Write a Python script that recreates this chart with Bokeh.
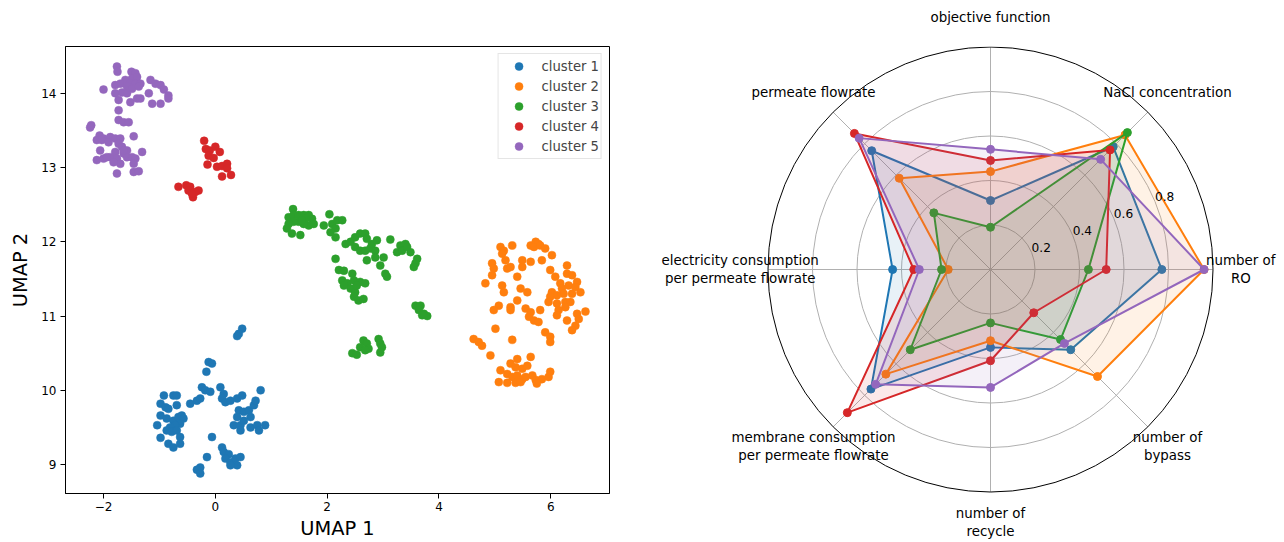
import numpy as np
from bokeh.plotting import figure
from bokeh.layouts import row
from bokeh.models import Range1d, FixedTicker, Legend, LegendItem, LinearAxis
from bokeh.embed import file_html
from bokeh.resources import INLINE
from bokeh.core.properties import value

# ---------------- data ----------------
cluster_names = ["cluster 1", "cluster 2", "cluster 3", "cluster 4", "cluster 5"]
colors = ["#1f77b4", "#ff7f0e", "#2ca02c", "#d62728", "#9467bd"]

c1_x = [0.48, 0.42, 0.39, -0.12, -0.06, -0.16, -0.24, -0.18, -0.09, 0.09, 0.15, 0.12, 0.18, 0.27, 0.39, 0.48,
        0.81, -0.45, -0.33, -0.27, -0.92, -0.75, -0.69, -0.98, -0.89, -0.84, -0.69, -0.98, -0.87, -0.75, -0.66,
        -0.60, -0.57, -0.63, -0.72, -0.81, -1.04, -0.87, -0.78, -0.69, -0.63, -0.98, -0.84, -0.75, -0.63, 0.42,
        0.51, 0.60, 0.69, 0.72, 0.63, 0.39, 0.33, 0.45, 0.51, 0.63, 0.75, 0.78, 0.89, 0.45, -0.06, 0.12, 0.15,
        0.24, 0.18, 0.27, 0.36, 0.45, 0.39, 0.27, -0.15, -0.27, -0.33, -0.27]
c1_y = [10.83, 10.76, 10.73, 10.38, 10.36, 10.25, 10.04, 10.00, 9.98, 10.04, 9.95, 9.89, 9.84, 9.86, 9.89, 9.93,
        10.00, 9.82, 9.86, 9.89, 9.93, 9.93, 9.93, 9.82, 9.77, 9.75, 9.80, 9.66, 9.62, 9.59, 9.64,
        9.66, 9.62, 9.55, 9.53, 9.50, 9.53, 9.46, 9.44, 9.46, 9.37, 9.36, 9.28, 9.23, 9.28, 9.73,
        9.71, 9.73, 9.80, 9.86, 9.64, 9.64, 9.53, 9.53, 9.59, 9.50, 9.53, 9.46, 9.53, 9.46, 9.37, 9.23, 9.17,
        9.14, 9.08, 9.03, 9.08, 9.10, 8.99, 8.99, 9.10, 8.96, 8.93, 8.88]

c2_x = [5.10, 5.16, 5.13, 5.31, 5.64, 5.73, 5.78, 5.70, 5.81, 5.90, 6.02, 5.19, 5.49, 5.64, 5.84, 4.95, 4.98,
        4.95, 5.22, 5.28, 5.49, 4.83, 5.13, 5.16, 5.40, 5.46, 5.58, 5.99, 6.08, 6.29, 6.29, 6.38, 6.47, 6.17,
        6.20, 6.32, 6.44, 6.53, 6.38, 6.23, 6.02, 5.99, 5.96, 6.11, 6.11, 6.26, 6.35, 6.26, 6.14, 5.40, 5.07,
        4.98, 5.28, 5.28, 5.55, 5.64, 5.81, 5.61, 5.70, 5.78, 6.11, 6.29, 6.47, 6.62, 6.50, 6.44, 6.38, 5.01,
        4.62, 4.71, 4.77, 5.31, 5.90, 5.99, 5.99, 4.92, 5.40, 5.64, 5.28, 5.37, 5.49, 5.58, 5.10, 5.22, 5.31,
        5.40, 5.49, 5.67, 5.73, 5.84, 5.96, 5.99, 5.07, 5.22, 5.37, 5.46, 5.75, 5.55]
c2_y = [11.93, 11.88, 11.84, 11.95, 11.95, 12.00, 11.97, 11.93, 11.95, 11.91, 11.82, 11.75, 11.75, 11.73, 11.75,
        11.71, 11.64, 11.55, 11.64, 11.66, 11.66, 11.44, 11.41, 11.32, 11.53, 11.37, 11.32, 11.62, 11.53, 11.68,
        11.57, 11.55, 11.46, 11.44, 11.37, 11.41, 11.39, 11.32, 11.30, 11.30, 11.32, 11.26, 11.19, 11.28, 11.17,
        11.19, 11.19, 11.12, 11.08, 11.21, 11.14, 11.08, 11.12, 11.08, 11.10, 11.05, 11.08, 10.99, 10.94, 10.92,
        11.01, 10.94, 11.03, 11.06, 10.96, 10.87, 10.81, 10.83, 10.69, 10.65, 10.60, 10.68, 10.78, 10.72, 10.65,
        10.47, 10.42, 10.45, 10.36, 10.31, 10.29, 10.33, 10.27, 10.22, 10.18, 10.20, 10.15, 10.20, 10.14, 10.15,
        10.18, 10.25, 10.11, 10.10, 10.10, 10.11, 10.09, 10.18]

c3_x = [1.39, 1.31, 1.40, 1.49, 1.58, 1.67, 1.73, 1.76, 1.67, 1.58, 1.49, 1.40, 1.31, 1.28, 1.37, 1.52, 1.61,
        1.55, 2.04, 1.94, 2.09, 2.18, 2.27, 2.15, 2.06, 2.15, 2.33, 2.42, 2.50, 2.59, 2.68, 2.71, 2.50, 2.59,
        2.68, 2.77, 2.86, 2.80, 2.89, 3.13, 2.71, 2.86, 3.01, 2.95, 3.04, 3.07, 3.25, 3.31, 3.40, 3.34, 3.49,
        3.43, 3.61, 3.58, 3.55, 2.15, 2.21, 2.30, 2.45, 2.27, 2.36, 2.48, 2.59, 2.68, 2.42, 2.50, 2.48, 2.56,
        2.65, 2.30, 2.53, 3.58, 3.67, 3.64, 3.73, 3.79, 3.70, 2.65, 2.71, 2.59, 2.74, 2.68, 2.45, 2.53, 2.92,
        2.95, 2.98, 2.95]
c3_y = [12.44, 12.33, 12.36, 12.36, 12.36, 12.36, 12.31, 12.24, 12.22, 12.24, 12.27, 12.27, 12.24, 12.18, 12.11,
        12.09, 12.31, 12.29, 12.37, 12.22, 12.24, 12.29, 12.29, 12.18, 12.13, 12.06, 11.97, 12.00, 12.06, 12.11,
        12.11, 12.04, 11.93, 11.88, 11.88, 11.91, 11.88, 11.97, 12.02, 12.03, 11.75, 11.79, 11.79, 11.68, 11.57,
        11.53, 11.86, 11.95, 11.97, 11.88, 11.86, 11.93, 11.77, 11.71, 11.66, 11.77, 11.62, 11.61, 11.57, 11.48,
        11.44, 11.48, 11.46, 11.44, 11.37, 11.32, 11.26, 11.21, 11.23, 11.41, 11.41, 11.14, 11.14, 11.08, 11.03,
        11.00, 11.01, 10.67, 10.63, 10.58, 10.56, 10.54, 10.50, 10.48, 10.69, 10.63, 10.58, 10.51]

c4_x = [-0.20, -0.17, -0.10, 0.00, 0.08, -0.12, -0.03, -0.14, 0.03, 0.12, 0.21, 0.21, 0.12, 0.28, -0.66, -0.52,
        -0.45, -0.48, -0.40, -0.30, -0.36, -0.42]
c4_y = [13.36, 13.25, 13.23, 13.28, 13.21, 13.16, 13.13, 13.04, 13.01, 13.02, 13.05, 12.99, 12.88, 12.90, 12.74,
        12.76, 12.74, 12.69, 12.60, 12.69, 12.67, 12.65]

c5_x = [-1.76, -1.75, -1.50, -1.43, -1.49, -1.40, -1.61, -1.52, -1.43, -1.34, -1.79, -1.70, -1.58, -1.49, -1.37,
        -1.16, -1.07, -0.98, -0.92, -2.00, -1.79, -1.67, -1.58, -1.73, -1.52, -1.40, -1.34, -1.19, -1.13, -0.98,
        -0.84, -0.84, -1.73, -1.73, -1.64, -1.55, -2.22, -2.24, -2.07, -2.00, -1.88, -1.79, -1.70, -1.46, -2.12,
        -2.03, -1.91, -1.73, -1.67, -1.58, -2.06, -1.79, -1.64, -1.31, -2.12, -2.00, -1.88, -1.76, -1.70, -1.58,
        -1.49, -1.43, -1.46, -1.76, -1.46, -1.37, -1.64, -1.94, -1.82]
c5_y = [14.36, 14.29, 14.29, 14.27, 14.20, 14.22, 14.18, 14.14, 14.13, 14.13, 14.11, 14.13, 14.09, 14.06, 14.09,
        14.18, 14.13, 14.11, 14.05, 14.05, 14.00, 14.01, 14.00, 13.91, 13.88, 13.93, 13.93, 14.00, 13.86, 13.86,
        13.97, 13.93, 13.77, 13.64, 13.61, 13.61, 13.57, 13.54, 13.43, 13.39, 13.41, 13.39, 13.39, 13.42, 13.37,
        13.37, 13.34, 13.32, 13.28, 13.23, 13.23, 13.21, 13.19, 13.21, 13.10, 13.12, 13.14, 13.12, 13.05, 13.14,
        13.14, 13.12, 13.05, 12.92, 12.94, 12.95, 13.23, 13.14, 13.07]

x_ticks = [-2, 0, 2, 4, 6]
y_ticks = [9, 10, 11, 12, 13, 14]

# radar: categories counter-clockwise starting at 3 o'clock
radar_categories = ["number of\nRO", "NaCl concentration", "objective function", "permeate flowrate",
                    "electricity consumption\nper permeate flowrate",
                    "membrane consumption\nper permeate flowrate", "number of\nrecycle", "number of\nbypass"]
radar_c1 = [0.77, 0.78, 0.31, 0.755, 0.44, 0.76, 0.35, 0.51]
radar_c2 = [0.96, 0.855, 0.44, 0.58, 0.19, 0.665, 0.32, 0.68]
radar_c3 = [0.44, 0.87, 0.19, 0.36, 0.22, 0.51, 0.24, 0.445]
radar_c4 = [0.52, 0.76, 0.49, 0.865, 0.345, 0.91, 0.41, 0.275]
radar_c5 = [0.96, 0.70, 0.54, 0.835, 0.32, 0.73, 0.53, 0.47]
radial_ticks = [0.2, 0.4, 0.6, 0.8]
radial_max = 1.0

FONT = "DejaVu Sans"
BORDER_TOP, BORDER_BOTTOM = 46, 49
HEIGHT = 542

# ---------------- left: UMAP scatter ----------------
p1 = figure(width=650, height=HEIGHT, x_range=Range1d(-2.68, 7.05), y_range=Range1d(8.61, 14.63),
            output_backend="svg", toolbar_location=None,
            min_border_left=65, min_border_right=41, min_border_top=BORDER_TOP, min_border_bottom=BORDER_BOTTOM)
p1.grid.visible = False
p1.outline_line_color = "black"
p1.outline_line_alpha = 1
p1.outline_line_width = 1
p1.background_fill_color = "white"
p1.border_fill_color = "white"

xs_all = [c1_x, c2_x, c3_x, c4_x, c5_x]
ys_all = [c1_y, c2_y, c3_y, c4_y, c5_y]
renderers = []
for xs, ys, c in zip(xs_all, ys_all, colors):
    r = p1.scatter(xs, ys, size=8, fill_color=c, line_color=c, line_width=0.5)
    renderers.append(r)

for ax in (p1.xaxis, p1.yaxis):
    ax.minor_tick_line_color = None
    ax.major_tick_in = 0
    ax.major_tick_out = 5
    ax.major_tick_line_color = "black"
    ax.axis_line_color = "black"
    ax.major_label_text_font = FONT
    ax.major_label_text_font_size = "12px"
    ax.major_label_text_color = "black"
    ax.axis_label_text_font = FONT
    ax.axis_label_text_font_size = "19.4px"
    ax.axis_label_text_font_style = "normal"
    ax.axis_label_text_color = "black"
p1.xaxis.ticker = FixedTicker(ticks=x_ticks)
p1.yaxis.ticker = FixedTicker(ticks=y_ticks)
p1.xaxis.major_label_overrides = {t: (str(t) if t >= 0 else "\u2212" + str(-t)) for t in x_ticks}
p1.xaxis.major_label_standoff = 3
p1.xaxis.axis_label = "UMAP 1"
p1.xaxis.axis_label_standoff = 3
p1.yaxis.major_label_standoff = 4
p1.yaxis.axis_label = "UMAP 2"
p1.yaxis.axis_label_standoff = 6

legend = Legend(items=[LegendItem(label=n, renderers=[r]) for n, r in zip(cluster_names, renderers)],
                location="top_right", margin=7, padding=2, spacing=0,
                glyph_width=36, glyph_height=20, label_height=20, label_standoff=5,
                label_text_font=FONT, label_text_font_size="13.2px",
                border_line_color="#cccccc", border_line_width=1,
                background_fill_alpha=0.8)
p1.add_layout(legend)

# ---------------- right: radar ----------------
R = 222.5  # pixels per unit radius
p2 = figure(width=634, height=HEIGHT, x_range=Range1d(-340 / R, 294 / R), y_range=Range1d(-224 / R, 223 / R),
            output_backend="svg", toolbar_location=None, x_axis_type=None, y_axis_type=None,
            min_border=0, min_border_left=0, min_border_right=0,
            min_border_top=BORDER_TOP, min_border_bottom=BORDER_BOTTOM)
p2.grid.visible = False
p2.outline_line_color = None
p2.background_fill_color = "white"
p2.border_fill_color = "white"

n = len(radar_categories)
theta = np.arange(n) * 2 * np.pi / n

# grid rings and spokes
p2.circle(x=[0] * len(radial_ticks), y=[0] * len(radial_ticks), radius=radial_ticks,
          fill_color=None, line_color="#b0b0b0", line_width=1)
p2.segment(x0=[0] * n, y0=[0] * n, x1=list(radial_max * np.cos(theta)), y1=list(radial_max * np.sin(theta)),
           line_color="#b0b0b0", line_width=1)

for vals, c in zip([radar_c1, radar_c2, radar_c3, radar_c4, radar_c5], colors):
    v = np.array(vals)
    px = v * np.cos(theta)
    py = v * np.sin(theta)
    lx = list(px) + [px[0]]
    ly = list(py) + [py[0]]
    p2.line(lx, ly, line_color=c, line_width=2)
    p2.scatter(list(px), list(py), size=8, fill_color=c, line_color=c)
    p2.patch(list(px), list(py), fill_color=c, fill_alpha=0.1, line_color=None)

# outer spine
p2.circle(x=[0], y=[0], radius=[radial_max], fill_color=None, line_color="black", line_width=1)

# radial tick labels at 22.5 deg
a = np.deg2rad(22.5)
rt = np.array(radial_ticks)
p2.text(x=list(rt * np.cos(a)), y=list(rt * np.sin(a)), text=[f"{t:.1f}" for t in radial_ticks],
        text_align="left", text_baseline="bottom", text_font=value(FONT), text_font_size="12.2px",
        text_color="black")

# category labels (top & bottom ones live in the border, drawn as axis labels)
lab_r = 1.125 * radial_max
side_idx = [i for i in range(n) if abs(np.cos(theta[i])) > 1e-6]
p2.text(x=[lab_r * np.cos(theta[i]) for i in side_idx], y=[lab_r * np.sin(theta[i]) for i in side_idx],
        text=[radar_categories[i] for i in side_idx],
        text_align="center", text_baseline="middle", text_font=value(FONT), text_font_size="13.4px",
        text_color="black", text_line_height=1.15)

top_i = int(np.argmax(np.sin(theta)))
bot_i = int(np.argmin(np.sin(theta)))


def label_axis(text, standoff):
    ax = LinearAxis(ticker=FixedTicker(ticks=[0]), major_label_overrides={0: text},
                    axis_line_color=None, major_tick_line_color=None, minor_tick_line_color=None,
                    major_tick_in=0, major_tick_out=0, major_label_standoff=standoff,
                    major_label_text_font=FONT, major_label_text_font_size="13.4px",
                    major_label_text_color="black", major_label_text_align="center")
    return ax


p2.add_layout(label_axis(radar_categories[top_i], 22), "above")
p2.add_layout(label_axis(radar_categories[bot_i], 12), "below")

layout = row(p1, p2)
open("out.html", "w").write(file_html(layout, INLINE, "chart"))
